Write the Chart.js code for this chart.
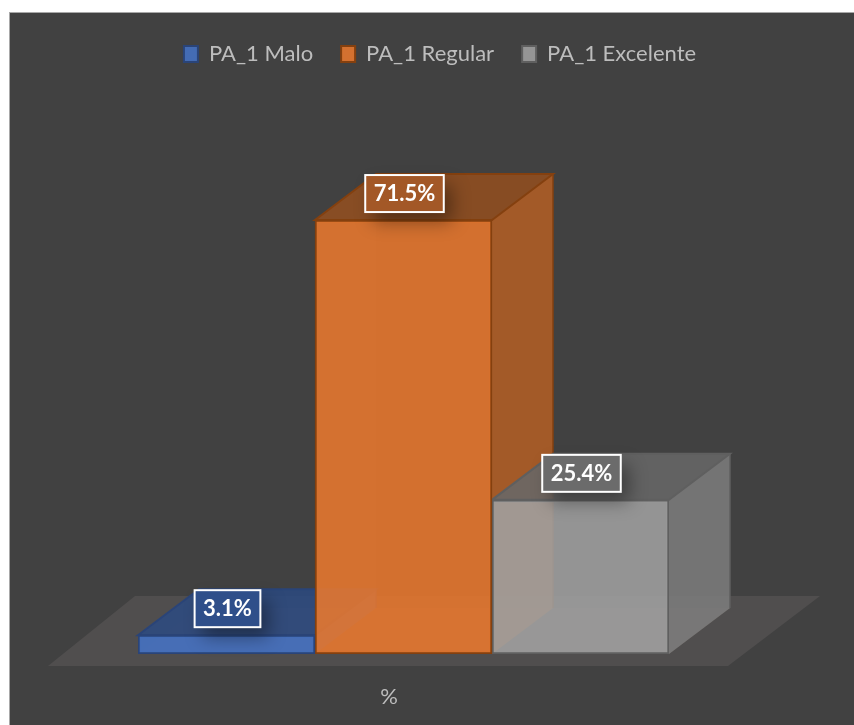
<!DOCTYPE html>
<html>
<head>
<meta charset="utf-8">
<title>PA_1</title>
<style>
    html, body { margin: 0; padding: 0; background: #fff; }
    canvas { display: block; }
</style>
<script src="https://cdn.jsdelivr.net/npm/chart.js@4/dist/chart.umd.min.js"></script>
</head>
<body>
<canvas id="chart" width="854" height="725"></canvas>
<script>
var categories = ['%'];
var seriesNames = ['PA_1 Malo', 'PA_1 Regular', 'PA_1 Excelente'];
var seriesValues = [3.1, 71.5, 25.4];

var frontColors = ['rgba(68,114,196,0.88)', 'rgba(232,120,46,0.88)', 'rgba(161,161,161,0.88)'];
var sideColors = ['rgba(50,85,150,0.88)', 'rgba(178,94,38,0.88)', 'rgba(124,124,124,0.88)'];
var topColors = ['rgba(44,74,128,0.88)', 'rgba(146,78,32,0.88)', 'rgba(104,104,104,0.88)'];
var edgeColors = ['#2a4478', '#84400f', '#5f5f5f'];
var labelFills = ['#2f4f8a', '#a35827', '#6b6b6b'];
var FONT = 'Lato, Carlito, sans-serif';

// the 3D look: everything here hangs off the bar elements and the scales
var DEPTH_X = 61, DEPTH_Y = -46;

function poly(ctx, pts, fill, stroke) {
    ctx.beginPath();
    ctx.moveTo(pts[0][0], pts[0][1]);
    for (var i = 1; i < pts.length; i++) {
        ctx.lineTo(pts[i][0], pts[i][1]);
    }
    ctx.closePath();
    ctx.fillStyle = fill;
    ctx.fill();
    if (stroke) {
        ctx.strokeStyle = stroke;
        ctx.lineWidth = 2;
        ctx.stroke();
    }
}

var scenePlugin = {
    id: 'scene',
    beforeDraw: function (chart) {
        var ctx = chart.ctx;
        ctx.save();
        ctx.fillStyle = '#fff';
        ctx.fillRect(0, 0, chart.width, chart.height);
        ctx.fillStyle = '#414141';
        ctx.fillRect(10, 13, chart.width - 10, chart.height - 13);
        ctx.fillStyle = '#a8a8a8';
        ctx.fillRect(9, 12, chart.width - 9, 1);
        ctx.fillRect(9, 12, 1, chart.height - 12);
        ctx.restore();
    },
    beforeDatasetsDraw: function (chart) {
        var ctx = chart.ctx;
        var area = chart.chartArea;
        var base = chart.scales.y.getPixelForValue(0);
        ctx.save();

        // floor
        poly(ctx, [
            [area.left - 90, base + 12],
            [area.right + 59, base + 12],
            [area.right + 151, base - 58],
            [area.left - 3, base - 58]
        ], '#504e4e');

        seriesValues.forEach(function (v, i) {
            var bar = chart.getDatasetMeta(i).data[0];
            var l = bar.x - bar.width / 2, r = bar.x + bar.width / 2, t = bar.y, b = base;
            var dx = DEPTH_X, dy = DEPTH_Y;

            // hidden faces, they only show through the fronts
            poly(ctx, [[l, t], [l + dx, t + dy], [l + dx, b + dy], [l, b]], 'rgba(255,255,255,0.03)');
            poly(ctx, [[l + dx, t + dy], [r + dx, t + dy], [r + dx, b + dy], [l + dx, b + dy]], 'rgba(0,0,0,0.02)');
            poly(ctx, [[l, b], [r, b], [r + dx, b + dy], [l + dx, b + dy]], 'rgba(255,190,120,0.07)');

            poly(ctx, [[r, t], [r + dx, t + dy], [r + dx, b + dy], [r, b]], sideColors[i]);
            poly(ctx, [[l, t], [r, t], [r + dx, t + dy], [l + dx, t + dy]], topColors[i], edgeColors[i]);
            ctx.strokeStyle = edgeColors[i];
            ctx.lineWidth = 1.5;
            ctx.beginPath();
            ctx.moveTo(r + dx, t + dy);
            ctx.lineTo(r + dx, b + dy);
            ctx.stroke();
        });
        ctx.restore();
    },
    afterDatasetsDraw: function (chart) {
        var ctx = chart.ctx;
        ctx.save();
        ctx.font = 'bold 22px ' + FONT;
        ctx.textAlign = 'center';
        ctx.textBaseline = 'middle';
        seriesValues.forEach(function (v, i) {
            var bar = chart.getDatasetMeta(i).data[0];
            var text = v.toFixed(1) + '%';
            var w = ctx.measureText(text).width + 17, h = 37;
            var x = bar.x + 1 - w / 2, y = bar.y - 26.5 - h / 2;

            ctx.save();
            ctx.shadowColor = 'rgba(0,0,0,0.38)';
            ctx.shadowBlur = 18;
            ctx.shadowOffsetX = 8;
            ctx.shadowOffsetY = 10;
            ctx.fillStyle = labelFills[i];
            ctx.fillRect(x, y, w, h);
            ctx.restore();

            ctx.strokeStyle = '#fff';
            ctx.lineWidth = 2;
            ctx.strokeRect(x, y, w, h);
            ctx.fillStyle = '#fff';
            ctx.fillText(text, bar.x + 1, bar.y - 26);
        });
        ctx.restore();
    }
};

var datasets = seriesNames.map(function (name, i) {
    return {
        label: name,
        data: [seriesValues[i]],
        backgroundColor: frontColors[i],
        borderColor: edgeColors[i],
        borderWidth: 2,
        borderSkipped: false,
        barPercentage: 1,
        categoryPercentage: 1
    };
});

new Chart(document.getElementById('chart'), {
    type: 'bar',
    data: { labels: categories, datasets: datasets },
    plugins: [scenePlugin],
    options: {
        responsive: false,
        animation: false,
        layout: { padding: { top: 15, left: 26, right: 0, bottom: 0 } },
        plugins: {
            tooltip: { enabled: false },
            legend: {
                position: 'top',
                labels: {
                    color: '#bdbdbd',
                    boxWidth: 14,
                    boxHeight: 16,
                    padding: 28,
                    font: { family: FONT, size: 22 }
                }
            }
        },
        scales: {
            x: {
                grid: { display: false, drawTicks: false },
                border: { display: false },
                ticks: {
                    color: '#bdbdbd',
                    padding: 30,
                    labelOffset: -14.5,
                    maxRotation: 0,
                    font: { family: FONT, size: 22 }
                },
                afterFit: function (scale) { scale.height = 71; }
            },
            y: {
                min: 0,
                max: 95.4,
                grid: { display: false },
                border: { display: false },
                ticks: { display: false },
                afterFit: function (scale) { scale.width = 112; }
            },
            yRight: {
                position: 'right',
                grid: { display: false },
                border: { display: false },
                ticks: { display: false },
                afterFit: function (scale) { scale.width = 185; }
            }
        }
    }
});
</script>
</body>
</html>
